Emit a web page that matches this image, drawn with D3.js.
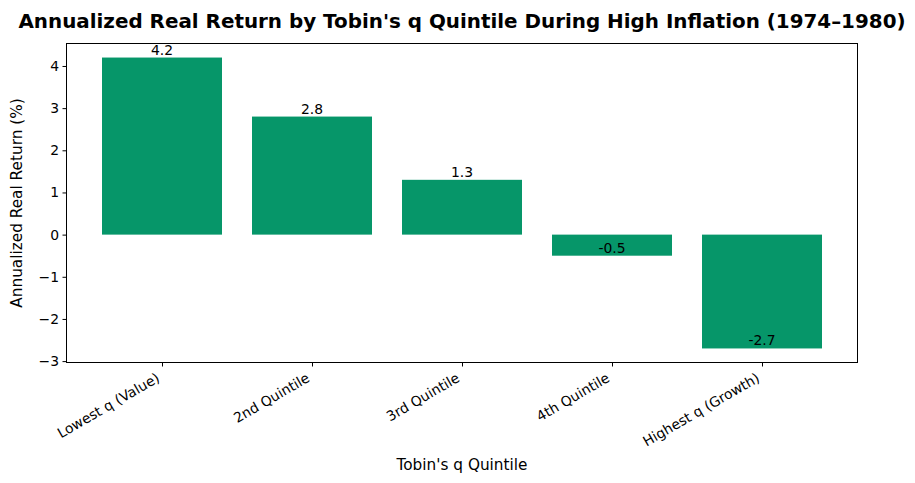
<!DOCTYPE html>
<html>
<head>
<meta charset="utf-8">
<script src="https://cdn.jsdelivr.net/npm/d3@7"></script>
<style>
  body { margin: 0; background: #fff; }
  text { font-family: "DejaVu Sans", sans-serif; }
</style>
</head>
<body>
<svg id="svg"></svg>
<script>
var categories = ['Lowest q (Value)', '2nd Quintile', '3rd Quintile', '4th Quintile', 'Highest q (Growth)'];
var returns = [4.2, 2.8, 1.3, -0.5, -2.7];
var yTicks = [-3, -2, -1, 0, 1, 2, 3, 4];

var width = 915, height = 483;
var margin = { left: 66, right: 57, top: 43, bottom: 120 };
var svg = d3.select('#svg').attr('width', width).attr('height', height);

var plotW = width - margin.left - margin.right;
var plotH = height - margin.top - margin.bottom;

// matplotlib style 5% margins around data
var yMin = d3.min(returns), yMax = d3.max(returns);
var yPad = (yMax - yMin) * 0.05;
var y = d3.scaleLinear().domain([yMin - yPad, yMax + yPad]).range([plotH, 0]);
var xPad = 4.8 * 0.05;
var x = d3.scaleLinear().domain([-0.4 - xPad, categories.length - 0.6 + xPad]).range([0, plotW]);
var barW = x(0.8) - x(0);

var g = svg.append('g').attr('transform', 'translate(' + margin.left + ',' + margin.top + ')');

g.selectAll('rect.bar')
  .data(returns)
  .enter().append('rect')
  .attr('class', 'bar')
  .attr('x', function (d, i) { return x(i) - barW / 2; })
  .attr('y', function (d) { return y(Math.max(0, d)); })
  .attr('width', barW)
  .attr('height', function (d) { return Math.abs(y(d) - y(0)); })
  .attr('fill', '#069669');

g.selectAll('text.val')
  .data(returns)
  .enter().append('text')
  .attr('class', 'val')
  .attr('x', function (d, i) { return x(i); })
  .attr('y', function (d) { return y(d) - 3; })
  .attr('text-anchor', 'middle')
  .attr('font-size', '13.9px')
  .attr('fill', '#000')
  .text(function (d) { return d.toFixed(1); });

// y axis
var yAxis = g.append('g')
  .call(d3.axisLeft(y).tickValues(yTicks).tickSize(3.5).tickPadding(3.5)
    .tickFormat(function (d) { return d < 0 ? '\u2212' + Math.abs(d) : d; }));
yAxis.select('.domain').remove();
yAxis.selectAll('text').attr('font-size', '13.9px').attr('font-family', 'DejaVu Sans').attr('fill', '#000');
yAxis.selectAll('line').attr('stroke', '#000').attr('stroke-width', 1);

// x axis
var xAxis = g.append('g').attr('transform', 'translate(0,' + plotH + ')')
  .call(d3.axisBottom(x).tickValues(d3.range(categories.length)).tickSize(3.5)
    .tickFormat(function (d) { return categories[d]; }));
xAxis.select('.domain').remove();
xAxis.selectAll('line').attr('stroke', '#000').attr('stroke-width', 1);
xAxis.selectAll('text')
  .attr('font-size', '13.9px')
  .attr('font-family', 'DejaVu Sans')
  .attr('fill', '#000')
  .attr('text-anchor', 'end')
  .attr('y', 0)
  .attr('dy', '0.9em')
  .attr('transform', 'translate(-8,7) rotate(-30)');

// frame
g.append('rect').attr('x', 0.5).attr('y', 0.5).attr('width', plotW - 1).attr('height', plotH - 1)
  .attr('fill', 'none').attr('stroke', '#000').attr('stroke-width', 1)
  .attr('shape-rendering', 'crispEdges');

// labels
svg.append('text')
  .attr('x', margin.left + plotW / 2).attr('y', 28)
  .attr('text-anchor', 'middle')
  .attr('font-size', '19.9px').attr('font-weight', 'bold')
  .text("Annualized Real Return by Tobin's q Quintile During High Inflation (1974\u20131980)");

svg.append('text')
  .attr('x', margin.left + plotW / 2).attr('y', 470)
  .attr('text-anchor', 'middle')
  .attr('font-size', '15.3px')
  .text("Tobin's q Quintile");

svg.append('text')
  .attr('transform', 'translate(22,' + (margin.top + plotH / 2) + ') rotate(-90)')
  .attr('text-anchor', 'middle')
  .attr('font-size', '15.3px')
  .text('Annualized Real Return (%)');
</script>
</body>
</html>
